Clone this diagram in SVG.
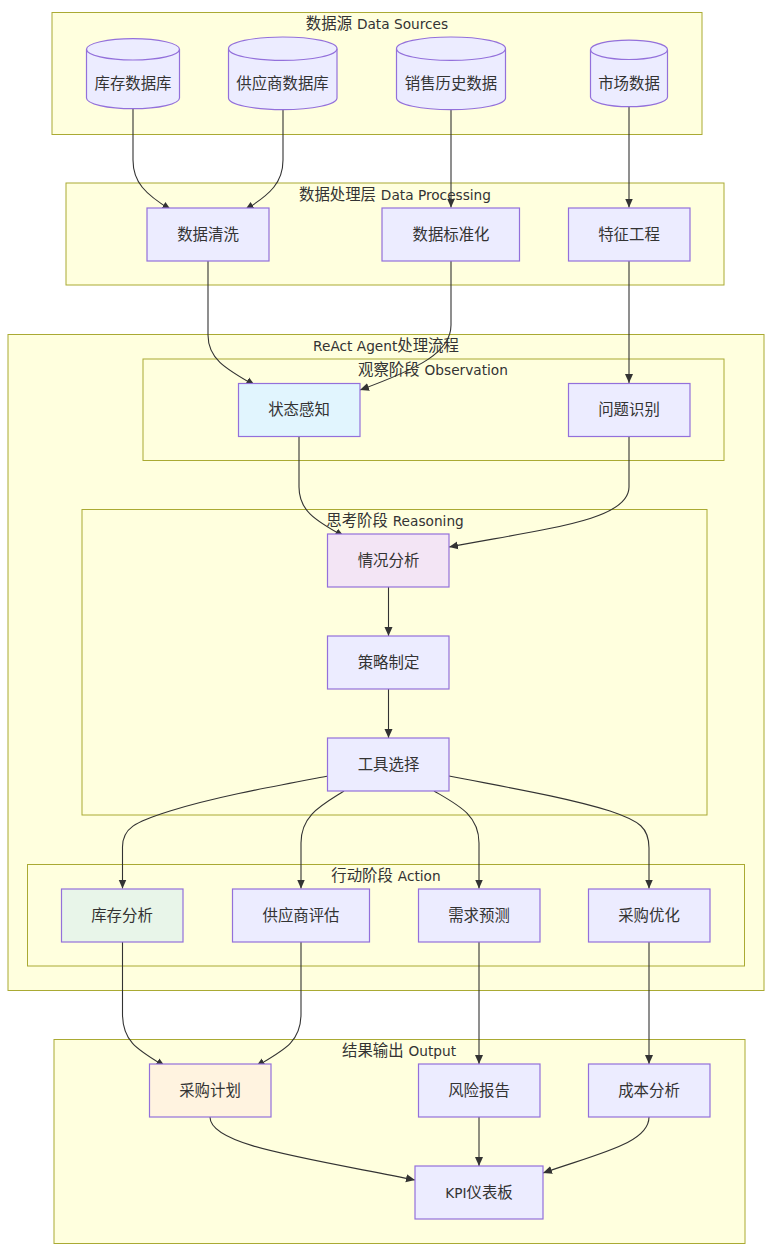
<svg xmlns="http://www.w3.org/2000/svg" width="772" height="1256" viewBox="0 0 772 1256">
<style>
text{font-family:"DejaVu Sans","Noto Sans CJK SC",sans-serif;font-size:15.4px;fill:#333;text-anchor:middle}
tspan{font-size:13.7px}
.c{fill:#ffffde;stroke:#aaaa33;stroke-width:1}
.n{fill:#ececff;stroke:#9370db;stroke-width:1.2}
.a{fill:none;stroke:#9370db;stroke-width:1.2}
.e{fill:none;stroke:#333;stroke-width:1.1;marker-end:url(#a)}
</style>
<defs><marker id="a" markerWidth="11" markerHeight="11" refX="9" refY="5" orient="auto" markerUnits="userSpaceOnUse"><path d="M0 1 L9 5 L0 9 Z" fill="#333"/></marker></defs>
<rect width="772" height="1256" fill="#fff"/>
<g id="clusters">
<g id="c-sources"><rect class="c" x="52" y="12.500" width="650" height="122"/><text x="377" y="29">数据源 <tspan>Data Sources</tspan></text></g>
<g id="c-processing"><rect class="c" x="66" y="183" width="658" height="102"/><text x="395" y="200">数据处理层 <tspan>Data Processing</tspan></text></g>
<g id="c-react"><rect class="c" x="8" y="334.500" width="756" height="656"/><text x="386" y="351"><tspan>ReAct Agent</tspan>处理流程</text></g>
<g id="c-obs"><rect class="c" x="143" y="359" width="581" height="101.500"/><text x="433" y="375">观察阶段 <tspan>Observation</tspan></text></g>
<g id="c-reason"><rect class="c" x="82" y="509.500" width="625" height="305.500"/><text x="395" y="526">思考阶段 <tspan>Reasoning</tspan></text></g>
<g id="c-action"><rect class="c" x="27.500" y="864.500" width="717" height="101.500"/><text x="386" y="881">行动阶段 <tspan>Action</tspan></text></g>
<g id="c-output"><rect class="c" x="54" y="1039.500" width="691" height="204"/><text x="399" y="1056">结果输出 <tspan>Output</tspan></text></g>
</g>
<g id="connectors">
<path class="e" d="M133 108 V160 C133 182 145 194 171 210"/>
<path class="e" d="M283 109 V160 C283 182 271 194 245 210"/>
<path class="e" d="M451 109 V207.500"/>
<path class="e" d="M629 106 V207.500"/>
<path class="e" d="M208 261 V335 C208 358 224 368 255 385.500"/>
<path class="e" d="M451 261 V325 C451 352 420 368 360 390"/>
<path class="e" d="M629 261 V383"/>
<path class="e" d="M299 436.500 V487 C299 510 314 520 344 536.500"/>
<path class="e" d="M629 436.500 V487 C629 520 550 528 449 547"/>
<path class="e" d="M388.500 587 V636"/>
<path class="e" d="M388.500 689 V738"/>
<path class="e" d="M328 776 C270 787 215 797 170 811 C135 822 122 828 122.500 848 V888.500"/>
<path class="e" d="M344 791 C322 805 301 815 301 843 V888.500"/>
<path class="e" d="M434 791 C458 805 479 815 479 843 V888.500"/>
<path class="e" d="M449 776 C505 787 565 797 610 811 C640 821 649 828 649 848 V888.500"/>
<path class="e" d="M122.500 942 V1014 C122.500 1042 138 1050 165 1066.500"/>
<path class="e" d="M301 942 V1014 C301 1042 284 1050 256 1066.500"/>
<path class="e" d="M479 942 V1064"/>
<path class="e" d="M649 942 V1064"/>
<path class="e" d="M210 1117 C210 1145 300 1157 415 1180"/>
<path class="e" d="M479 1117 V1166"/>
<path class="e" d="M649 1117 C649 1143 600 1153 543 1173"/>
</g>
<g id="n-inv"><path class="n" d="M86.500 49.300 a46.500 10.700 0 0 1 93 0 V98 a46.500 10.700 0 0 1 -93 0 Z"/><path class="a" d="M86.500 49.300 a46.500 10.700 0 0 0 93 0"/><text x="133" y="88.500">库存数据库</text></g>
<g id="n-sup"><path class="n" d="M228.500 48.700 a54.250 11.700 0 0 1 108.500 0 V98 a54.250 11.700 0 0 1 -108.500 0 Z"/><path class="a" d="M228.500 48.700 a54.250 11.700 0 0 0 108.500 0"/><text x="282.500" y="88.500">供应商数据库</text></g>
<g id="n-sales"><path class="n" d="M396.500 48.700 a54.500 11.700 0 0 1 109 0 V98 a54.500 11.700 0 0 1 -109 0 Z"/><path class="a" d="M396.500 48.700 a54.500 11.700 0 0 0 109 0"/><text x="451" y="88.500">销售历史数据</text></g>
<g id="n-market"><path class="n" d="M590.500 49.800 a38.500 9.700 0 0 1 77 0 V97 a38.500 9.700 0 0 1 -77 0 Z"/><path class="a" d="M590.500 49.800 a38.500 9.700 0 0 0 77 0"/><text x="629" y="88.500">市场数据</text></g>
<g id="n-clean"><rect class="n" x="147" y="208" width="122" height="53"/><text x="208" y="239.500">数据清洗</text></g>
<g id="n-std"><rect class="n" x="382" y="208" width="137.500" height="53"/><text x="451" y="239.500">数据标准化</text></g>
<g id="n-feat"><rect class="n" x="568.500" y="208" width="121.500" height="53"/><text x="629" y="239.500">特征工程</text></g>
<g id="n-state"><rect class="n" x="238.500" y="383.500" width="121.500" height="53" style="fill:#e1f5fe"/><text x="299" y="414.500">状态感知</text></g>
<g id="n-prob"><rect class="n" x="568.500" y="383.500" width="121.500" height="53"/><text x="629" y="414.500">问题识别</text></g>
<g id="n-analysis"><rect class="n" x="327.500" y="534" width="121.500" height="53" style="fill:#f3e5f5"/><text x="388.500" y="565.500">情况分析</text></g>
<g id="n-strategy"><rect class="n" x="327.500" y="636" width="121.500" height="53"/><text x="388.500" y="667.500">策略制定</text></g>
<g id="n-tool"><rect class="n" x="327.500" y="738" width="121.500" height="53"/><text x="388.500" y="769.500">工具选择</text></g>
<g id="n-invan"><rect class="n" x="61.500" y="889" width="121.500" height="53" style="fill:#e8f5e9"/><text x="122" y="920.500">库存分析</text></g>
<g id="n-supev"><rect class="n" x="232.500" y="889" width="137" height="53"/><text x="301" y="920.500">供应商评估</text></g>
<g id="n-demand"><rect class="n" x="418.500" y="889" width="121.500" height="53"/><text x="479" y="920.500">需求预测</text></g>
<g id="n-opt"><rect class="n" x="588.500" y="889" width="121.500" height="53"/><text x="649" y="920.500">采购优化</text></g>
<g id="n-plan"><rect class="n" x="149.500" y="1064" width="121.500" height="53" style="fill:#fff3e0"/><text x="210" y="1095.500">采购计划</text></g>
<g id="n-risk"><rect class="n" x="418.500" y="1064" width="121.500" height="53"/><text x="479" y="1095.500">风险报告</text></g>
<g id="n-cost"><rect class="n" x="588.500" y="1064" width="121.500" height="53"/><text x="649" y="1095.500">成本分析</text></g>
<g id="n-kpi"><rect class="n" x="415" y="1166" width="128" height="53"/><text x="479" y="1197.500"><tspan>KPI</tspan>仪表板</text></g>
</svg>
